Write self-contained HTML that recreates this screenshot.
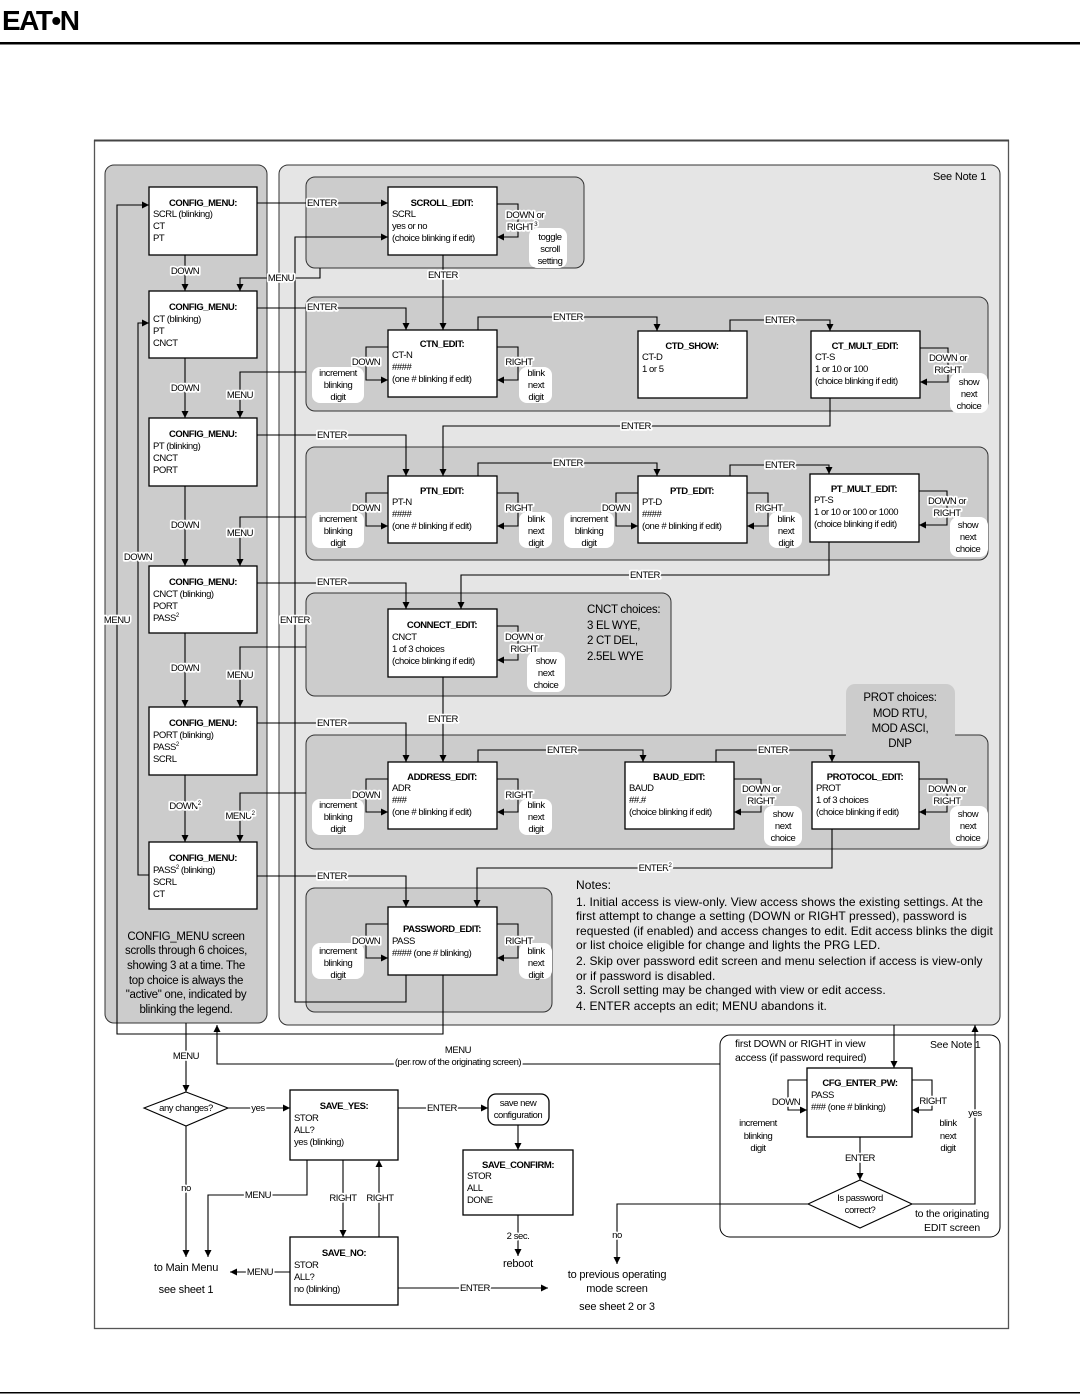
<!DOCTYPE html>
<html><head><meta charset="utf-8"><style>
html,body{margin:0;padding:0;background:#fff;}
svg{display:block;}
text{font-family:"Liberation Sans",Arial,sans-serif;font-size:9.5px;letter-spacing:-0.45px;fill:#000;}
.b{font-weight:bold;}
.c{text-anchor:middle;}
.l{stroke:#fff;stroke-width:3.5px;paint-order:stroke;stroke-linejoin:round;}
.big{font-size:11.5px;letter-spacing:-0.3px;}
.n{font-size:11px;letter-spacing:-0.2px;}
.nt{font-size:12px;letter-spacing:0.05px;}
line,polyline,path.w{fill:none;stroke:#000;stroke-width:1.1;}
.bx{fill:#fff;stroke:#000;stroke-width:1.3;}
.bub{fill:#fff;stroke:none;}
</style></head><body>
<svg width="1080" height="1399" viewBox="0 0 1080 1399" xmlns="http://www.w3.org/2000/svg">
<defs>
<marker id="a" viewBox="0 0 10 10" refX="10" refY="5" markerWidth="7" markerHeight="7" orient="auto" markerUnits="userSpaceOnUse"><path d="M0,0 L10,5 L0,10 z" fill="#000"/></marker>
</defs>
<!-- header -->
<text x="2" y="30" style="font-size:28px;font-weight:900;letter-spacing:-1.5px;font-family:'Liberation Sans',sans-serif">EAT•N</text>
<rect x="0" y="42" width="1080" height="2.5" fill="#000"/>
<rect x="0" y="1392" width="1080" height="1.5" fill="#000"/>

<!-- frame -->
<rect x="94.5" y="140.5" width="914" height="1188" fill="#fff" stroke="#555" stroke-width="1.3"/>
<rect x="94" y="139.5" width="915" height="2" fill="#444"/>

<!-- panels -->
<rect x="105" y="165" width="162" height="858" rx="9" fill="#cccccc" stroke="#333" stroke-width="1"/>
<rect x="279" y="165" width="721" height="860" rx="9" fill="#e5e5e5" stroke="#333" stroke-width="1"/>
<text x="933" y="180" class="n">See Note 1</text>
<rect x="306" y="177" width="278" height="91" rx="9" fill="#cccccc" stroke="#333"/>
<rect x="306" y="297" width="682" height="114" rx="9" fill="#cccccc" stroke="#333"/>
<rect x="306" y="447" width="682" height="113" rx="9" fill="#cccccc" stroke="#333"/>
<rect x="306" y="593" width="365" height="103" rx="9" fill="#cccccc" stroke="#333"/>
<rect x="306" y="735" width="682" height="114" rx="9" fill="#cccccc" stroke="#333"/>
<rect x="846" y="684" width="109" height="56" rx="9" fill="#cccccc"/>
<rect x="846" y="730" width="109" height="8" fill="#cccccc"/>
<rect x="306" y="888" width="246" height="124" rx="9" fill="#cccccc" stroke="#333"/>

<text x="587" y="613" class="big">CNCT choices:</text>
<text x="587" y="629" class="big">3 EL WYE,</text>
<text x="587" y="644" class="big">2 CT DEL,</text>
<text x="587" y="660" class="big">2.5EL WYE</text>
<text x="900" y="701" class="big c">PROT choices:</text>
<text x="900" y="717" class="big c">MOD RTU,</text>
<text x="900" y="732" class="big c">MOD ASCI,</text>
<text x="900" y="747" class="big c">DNP</text>

<text x="186" y="940" class="big c">CONFIG_MENU screen</text>
<text x="186" y="954" class="big c">scrolls through 6 choices,</text>
<text x="186" y="969" class="big c">showing 3 at a time.  The</text>
<text x="186" y="984" class="big c">top choice is always the</text>
<text x="186" y="998" class="big c">"active" one, indicated by</text>
<text x="186" y="1013" class="big c">blinking the legend.</text>

<!-- notes -->
<text x="576" y="889" class="nt">Notes:</text>
<text x="576" y="906" class="nt">1.  Initial access is view-only.  View access shows the existing settings.  At the</text>
<text x="576" y="920" class="nt">first attempt to change a setting (DOWN or RIGHT pressed), password is</text>
<text x="576" y="935" class="nt">requested (if enabled) and access changes to edit.  Edit access blinks the digit</text>
<text x="576" y="949" class="nt">or list choice eligible for change and lights the PRG LED.</text>
<text x="576" y="965" class="nt">2.  Skip over password edit screen and menu selection if access is view-only</text>
<text x="576" y="980" class="nt">or if password is disabled.</text>
<text x="576" y="994" class="nt">3.  Scroll setting may be changed with view or edit access.</text>
<text x="576" y="1010" class="nt">4.  ENTER accepts an edit; MENU abandons it.</text>

<!-- long left lines -->
<polyline points="443,975 443,1034 117,1034 117,205 149,205" marker-end="url(#a)"/>
<polyline points="149,875 138,875 138,323 149,323" marker-end="url(#a)"/>
<text x="117" y="623" class="l c">MENU</text>
<text x="138" y="560" class="l c">DOWN</text>
<polyline points="406,975 406,1002 295,1002 295,237 388,237" marker-end="url(#a)"/>
<text x="295" y="623" class="l c">ENTER</text>

<!-- config menus -->
<g>
<rect class="bx" x="149" y="187" width="108" height="68"/>
<text x="203" y="206" class="b c">CONFIG_MENU:</text><text x="153" y="217">SCRL (blinking)</text><text x="153" y="229">CT</text><text x="153" y="241">PT</text>
<rect class="bx" x="149" y="291" width="108" height="67"/>
<text x="203" y="310" class="b c">CONFIG_MENU:</text><text x="153" y="322">CT (blinking)</text><text x="153" y="334">PT</text><text x="153" y="346">CNCT</text>
<rect class="bx" x="149" y="418" width="108" height="68"/>
<text x="203" y="437" class="b c">CONFIG_MENU:</text><text x="153" y="449">PT (blinking)</text><text x="153" y="461">CNCT</text><text x="153" y="473">PORT</text>
<rect class="bx" x="149" y="566" width="108" height="67"/>
<text x="203" y="585" class="b c">CONFIG_MENU:</text><text x="153" y="597">CNCT (blinking)</text><text x="153" y="609">PORT</text><text x="153" y="621">PASS<tspan dy="-4" font-size="6">2</tspan></text>
<rect class="bx" x="149" y="707" width="108" height="68"/>
<text x="203" y="726" class="b c">CONFIG_MENU:</text><text x="153" y="738">PORT (blinking)</text><text x="153" y="750">PASS<tspan dy="-4" font-size="6">2</tspan></text><text x="153" y="762">SCRL</text>
<rect class="bx" x="149" y="842" width="108" height="67"/>
<text x="203" y="861" class="b c">CONFIG_MENU:</text><text x="153" y="873">PASS<tspan dy="-4" font-size="6">2</tspan><tspan dy="4"> (blinking)</tspan></text><text x="153" y="885">SCRL</text><text x="153" y="897">CT</text>
</g>
<!-- DOWN arrows -->
<line x1="185" y1="255" x2="185" y2="291" marker-end="url(#a)"/><text x="185" y="274" class="l c">DOWN</text>
<line x1="185" y1="358" x2="185" y2="418" marker-end="url(#a)"/><text x="185" y="391" class="l c">DOWN</text>
<line x1="185" y1="486" x2="185" y2="566" marker-end="url(#a)"/><text x="185" y="528" class="l c">DOWN</text>
<line x1="185" y1="633" x2="185" y2="707" marker-end="url(#a)"/><text x="185" y="671" class="l c">DOWN</text>
<line x1="185" y1="775" x2="185" y2="842" marker-end="url(#a)"/><text x="185" y="809" class="l c">DOWN<tspan dy="-4" font-size="6">2</tspan></text>
<!-- MENU returns -->
<polyline points="320,268 320,278 240,278 240,291" marker-end="url(#a)"/><text x="281" y="281" class="l c">MENU</text>
<polyline points="306,372 240,372 240,418" marker-end="url(#a)"/><text x="240" y="398" class="l c">MENU</text>
<polyline points="306,517 240,517 240,566" marker-end="url(#a)"/><text x="240" y="536" class="l c">MENU</text>
<polyline points="306,647 240,647 240,707" marker-end="url(#a)"/><text x="240" y="678" class="l c">MENU</text>
<polyline points="306,793 240,793 240,842" marker-end="url(#a)"/><text x="240" y="819" class="l c">MENU<tspan dy="-4" font-size="6">2</tspan></text>
<!-- ENTER from configs -->
<line x1="257" y1="203" x2="388" y2="203" marker-end="url(#a)"/><text x="322" y="206" class="l c">ENTER</text>
<polyline points="257,308 406,308 406,330" marker-end="url(#a)"/><text x="322" y="310" class="l c">ENTER</text>
<polyline points="257,435 406,435 406,476" marker-end="url(#a)"/><text x="332" y="438" class="l c">ENTER</text>
<polyline points="257,583 406,583 406,609" marker-end="url(#a)"/><text x="332" y="585" class="l c">ENTER</text>
<polyline points="257,723 406,723 406,762" marker-end="url(#a)"/><text x="332" y="726" class="l c">ENTER</text>
<polyline points="257,876 406,876 406,907" marker-end="url(#a)"/><text x="332" y="879" class="l c">ENTER</text>

<!-- chain enters -->
<line x1="443" y1="255" x2="443" y2="330" marker-end="url(#a)"/><text x="443" y="278" class="l c">ENTER</text>
<polyline points="478,330 478,317 657,317 657,331" marker-end="url(#a)"/><text x="568" y="320" class="l c">ENTER</text>
<polyline points="730,331 730,320 830,320 830,331" marker-end="url(#a)"/><text x="780" y="323" class="l c">ENTER</text>
<polyline points="830,398 830,426 443,426 443,476" marker-end="url(#a)"/><text x="636" y="429" class="l c">ENTER</text>
<polyline points="478,476 478,463 657,463 657,476" marker-end="url(#a)"/><text x="568" y="466" class="l c">ENTER</text>
<polyline points="730,476 730,465 829,465 829,474" marker-end="url(#a)"/><text x="780" y="468" class="l c">ENTER</text>
<polyline points="829,542 829,575 461,575 461,609" marker-end="url(#a)"/><text x="645" y="578" class="l c">ENTER</text>
<line x1="443" y1="677" x2="443" y2="762" marker-end="url(#a)"/><text x="443" y="722" class="l c">ENTER</text>
<polyline points="478,762 478,750 643,750 643,762" marker-end="url(#a)"/><text x="562" y="753" class="l c">ENTER</text>
<polyline points="716,762 716,750 832,750 832,762" marker-end="url(#a)"/><text x="773" y="753" class="l c">ENTER</text>
<polyline points="832,829 832,868 477,868 477,907" marker-end="url(#a)"/><text x="655" y="871" class="l c">ENTER<tspan dy="-4" font-size="6">2</tspan></text>

<!-- edit boxes -->
<rect class="bx" x="388" y="187" width="109" height="68"/>
<text x="442" y="206" class="b c">SCROLL_EDIT:</text><text x="392" y="217">SCRL</text><text x="392" y="229">yes or no</text><text x="392" y="241">(choice blinking if edit)</text>
<rect class="bx" x="388" y="330" width="109" height="67"/>
<text x="442" y="347" class="b c">CTN_EDIT:</text><text x="392" y="358">CT-N</text><text x="392" y="370">####</text><text x="392" y="382">(one # blinking if edit)</text>
<rect class="bx" x="638" y="331" width="109" height="67"/>
<text x="692" y="349" class="b c">CTD_SHOW:</text><text x="642" y="360">CT-D</text><text x="642" y="372">1 or 5</text>
<rect class="bx" x="811" y="331" width="109" height="67"/>
<text x="865" y="349" class="b c">CT_MULT_EDIT:</text><text x="815" y="360">CT-S</text><text x="815" y="372">1 or 10 or 100</text><text x="815" y="384">(choice blinking if edit)</text>
<rect class="bx" x="388" y="476" width="109" height="67"/>
<text x="442" y="494" class="b c">PTN_EDIT:</text><text x="392" y="505">PT-N</text><text x="392" y="517">####</text><text x="392" y="529">(one # blinking if edit)</text>
<rect class="bx" x="638" y="476" width="109" height="67"/>
<text x="692" y="494" class="b c">PTD_EDIT:</text><text x="642" y="505">PT-D</text><text x="642" y="517">####</text><text x="642" y="529">(one # blinking if edit)</text>
<rect class="bx" x="810" y="474" width="109" height="68"/>
<text x="864" y="492" class="b c">PT_MULT_EDIT:</text><text x="814" y="503">PT-S</text><text x="814" y="515">1 or 10 or 100 or 1000</text><text x="814" y="527">(choice blinking if edit)</text>
<rect class="bx" x="388" y="609" width="109" height="68"/>
<text x="442" y="628" class="b c">CONNECT_EDIT:</text><text x="392" y="640">CNCT</text><text x="392" y="652">1 of 3 choices</text><text x="392" y="664">(choice blinking if edit)</text>
<rect class="bx" x="388" y="762" width="109" height="67"/>
<text x="442" y="780" class="b c">ADDRESS_EDIT:</text><text x="392" y="791">ADR</text><text x="392" y="803">###</text><text x="392" y="815">(one # blinking if edit)</text>
<rect class="bx" x="625" y="762" width="109" height="67"/>
<text x="679" y="780" class="b c">BAUD_EDIT:</text><text x="629" y="791">BAUD</text><text x="629" y="803">##.#</text><text x="629" y="815">(choice blinking if edit)</text>
<rect class="bx" x="812" y="762" width="107" height="67"/>
<text x="865" y="780" class="b c">PROTOCOL_EDIT:</text><text x="816" y="791">PROT</text><text x="816" y="803">1 of 3 choices</text><text x="816" y="815">(choice blinking if edit)</text>
<rect class="bx" x="388" y="907" width="109" height="68"/>
<text x="442" y="932" class="b c">PASSWORD_EDIT:</text><text x="392" y="944">PASS</text><text x="392" y="956">#### (one # blinking)</text>

<!-- DOWN loops (increment) -->
<g>
<polyline points="388,347 366,347 366,380 388,380" marker-end="url(#a)"/>
<rect class="bub" x="312" y="367" width="52" height="36" rx="8"/>
<text x="366" y="365" class="l c">DOWN</text><text x="338" y="376" class="c">increment</text><text x="338" y="388" class="c">blinking</text><text x="338" y="400" class="c">digit</text>
<polyline points="388,493 366,493 366,526 388,526" marker-end="url(#a)"/>
<rect class="bub" x="312" y="512" width="52" height="36" rx="8"/>
<text x="366" y="511" class="l c">DOWN</text><text x="338" y="522" class="c">increment</text><text x="338" y="534" class="c">blinking</text><text x="338" y="546" class="c">digit</text>
<polyline points="638,493 616,493 616,526 638,526" marker-end="url(#a)"/>
<rect class="bub" x="564" y="512" width="50" height="36" rx="8"/>
<text x="616" y="511" class="l c">DOWN</text><text x="589" y="522" class="c">increment</text><text x="589" y="534" class="c">blinking</text><text x="589" y="546" class="c">digit</text>
<polyline points="388,779 366,779 366,812 388,812" marker-end="url(#a)"/>
<rect class="bub" x="312" y="799" width="52" height="36" rx="8"/>
<text x="366" y="798" class="l c">DOWN</text><text x="338" y="808" class="c">increment</text><text x="338" y="820" class="c">blinking</text><text x="338" y="832" class="c">digit</text>
<polyline points="388,924 366,924 366,958 388,958" marker-end="url(#a)"/>
<rect class="bub" x="312" y="943" width="52" height="36" rx="8"/>
<text x="366" y="944" class="l c">DOWN</text><text x="338" y="954" class="c">increment</text><text x="338" y="966" class="c">blinking</text><text x="338" y="978" class="c">digit</text>
</g>
<!-- RIGHT loops (blink next digit) -->
<g>
<polyline points="497,347 518,347 518,380 497,380" marker-end="url(#a)"/>
<rect class="bub" x="519" y="367" width="33" height="36" rx="8"/>
<text x="519" y="365" class="l c">RIGHT</text><text x="536" y="376" class="c">blink</text><text x="536" y="388" class="c">next</text><text x="536" y="400" class="c">digit</text>
<polyline points="497,493 518,493 518,526 497,526" marker-end="url(#a)"/>
<rect class="bub" x="519" y="512" width="33" height="36" rx="8"/>
<text x="519" y="511" class="l c">RIGHT</text><text x="536" y="522" class="c">blink</text><text x="536" y="534" class="c">next</text><text x="536" y="546" class="c">digit</text>
<polyline points="747,493 768,493 768,526 747,526" marker-end="url(#a)"/>
<rect class="bub" x="769" y="512" width="33" height="36" rx="8"/>
<text x="769" y="511" class="l c">RIGHT</text><text x="786" y="522" class="c">blink</text><text x="786" y="534" class="c">next</text><text x="786" y="546" class="c">digit</text>
<polyline points="497,779 518,779 518,812 497,812" marker-end="url(#a)"/>
<rect class="bub" x="519" y="799" width="33" height="36" rx="8"/>
<text x="519" y="798" class="l c">RIGHT</text><text x="536" y="808" class="c">blink</text><text x="536" y="820" class="c">next</text><text x="536" y="832" class="c">digit</text>
<polyline points="497,924 518,924 518,958 497,958" marker-end="url(#a)"/>
<rect class="bub" x="519" y="943" width="33" height="36" rx="8"/>
<text x="519" y="944" class="l c">RIGHT</text><text x="536" y="954" class="c">blink</text><text x="536" y="966" class="c">next</text><text x="536" y="978" class="c">digit</text>
</g>
<!-- DOWN or RIGHT loops -->
<g>
<polyline points="497,204 518,204 518,237 497,237" marker-end="url(#a)"/>
<rect class="bub" x="529" y="228" width="38" height="40" rx="8"/>
<text x="525" y="218" class="l c">DOWN or</text><text x="522" y="230" class="l c">RIGHT<tspan dy="-4" font-size="6">3</tspan></text>
<text x="550" y="240" class="c">toggle</text><text x="550" y="252" class="c">scroll</text><text x="550" y="264" class="c">setting</text>

<polyline points="920,348 948,348 948,382 920,382" marker-end="url(#a)"/>
<rect class="bub" x="950" y="373" width="38" height="40" rx="8"/>
<text x="948" y="361" class="l c">DOWN or</text><text x="948" y="373" class="l c">RIGHT</text>
<text x="969" y="385" class="c">show</text><text x="969" y="397" class="c">next</text><text x="969" y="409" class="c">choice</text>

<polyline points="919,491 947,491 947,525 919,525" marker-end="url(#a)"/>
<rect class="bub" x="950" y="517" width="38" height="40" rx="8"/>
<text x="947" y="504" class="l c">DOWN or</text><text x="947" y="516" class="l c">RIGHT</text>
<text x="968" y="528" class="c">show</text><text x="968" y="540" class="c">next</text><text x="968" y="552" class="c">choice</text>

<polyline points="497,626 518,626 518,660 497,660" marker-end="url(#a)"/>
<rect class="bub" x="527" y="652" width="38" height="40" rx="8"/>
<text x="524" y="640" class="l c">DOWN or</text><text x="524" y="652" class="l c">RIGHT</text>
<text x="546" y="664" class="c">show</text><text x="546" y="676" class="c">next</text><text x="546" y="688" class="c">choice</text>

<polyline points="734,779 761,779 761,812 734,812" marker-end="url(#a)"/>
<rect class="bub" x="764" y="806" width="38" height="40" rx="8"/>
<text x="761" y="792" class="l c">DOWN or</text><text x="761" y="804" class="l c">RIGHT</text>
<text x="783" y="817" class="c">show</text><text x="783" y="829" class="c">next</text><text x="783" y="841" class="c">choice</text>

<polyline points="919,779 947,779 947,812 919,812" marker-end="url(#a)"/>
<rect class="bub" x="950" y="806" width="38" height="40" rx="8"/>
<text x="947" y="792" class="l c">DOWN or</text><text x="947" y="804" class="l c">RIGHT</text>
<text x="968" y="817" class="c">show</text><text x="968" y="829" class="c">next</text><text x="968" y="841" class="c">choice</text>
</g>

<!-- bottom section -->
<line x1="186" y1="1023" x2="186" y2="1092" marker-end="url(#a)"/><text x="186" y="1059" class="l c">MENU</text>
<polyline points="720,1064 217,1064 217,1025" marker-end="url(#a)"/>
<text x="458" y="1053" class="l c">MENU</text><text x="458" y="1065" class="l c">(per row of the originating screen)</text>

<polygon points="186,1092 228,1108 186,1126 144,1108" fill="#fff" stroke="#000" stroke-width="1.1"/>
<text x="186" y="1111" class="c">any changes?</text>
<line x1="228" y1="1108" x2="290" y2="1108" marker-end="url(#a)"/><text x="258" y="1111" class="l c">yes</text>
<line x1="186" y1="1126" x2="186" y2="1257" marker-end="url(#a)"/><text x="186" y="1191" class="l c">no</text>

<rect class="bx" x="290" y="1090" width="108" height="70"/>
<text x="344" y="1109" class="b c">SAVE_YES:</text><text x="294" y="1121">STOR</text><text x="294" y="1133">ALL?</text><text x="294" y="1145">yes (blinking)</text>
<polyline points="307,1160 307,1195 208,1195 208,1257" marker-end="url(#a)"/><text x="258" y="1198" class="l c">MENU</text>
<line x1="343" y1="1160" x2="343" y2="1237" marker-end="url(#a)"/><text x="343" y="1201" class="l c">RIGHT</text>
<line x1="379" y1="1237" x2="379" y2="1160" marker-end="url(#a)"/><text x="380" y="1201" class="l c">RIGHT</text>
<line x1="398" y1="1108" x2="488" y2="1108" marker-end="url(#a)"/><text x="442" y="1111" class="l c">ENTER</text>
<rect class="bx" x="488" y="1094" width="61" height="31" rx="8"/>
<text x="518" y="1106" class="c">save new</text><text x="518" y="1118" class="c">configuration</text>
<line x1="518" y1="1125" x2="518" y2="1150" marker-end="url(#a)"/>
<rect class="bx" x="463" y="1150" width="110" height="65"/>
<text x="518" y="1168" class="b c">SAVE_CONFIRM:</text><text x="467" y="1179">STOR</text><text x="467" y="1191">ALL</text><text x="467" y="1203">DONE</text>
<line x1="518" y1="1215" x2="518" y2="1256" marker-end="url(#a)"/><text x="518" y="1239" class="l c">2 sec.</text>
<text x="518" y="1267" class="c n">reboot</text>

<rect class="bx" x="290" y="1237" width="108" height="68"/>
<text x="344" y="1256" class="b c">SAVE_NO:</text><text x="294" y="1268">STOR</text><text x="294" y="1280">ALL?</text><text x="294" y="1292">no (blinking)</text>
<line x1="290" y1="1272" x2="230" y2="1272" marker-end="url(#a)"/><text x="260" y="1275" class="l c">MENU</text>
<line x1="398" y1="1288" x2="548" y2="1288" marker-end="url(#a)"/><text x="475" y="1291" class="l c">ENTER</text>
<text x="186" y="1271" class="c n">to Main Menu</text>
<text x="186" y="1293" class="c n">see sheet 1</text>
<text x="617" y="1278" class="c n">to previous operating</text>
<text x="617" y="1292" class="c n">mode screen</text>
<text x="617" y="1310" class="c n">see sheet 2 or 3</text>

<!-- password panel -->
<rect x="720" y="1035" width="280" height="202" rx="10" fill="#fff" stroke="#000" stroke-width="1"/>
<text x="735" y="1047" class="n" style="font-size:10.5px">first DOWN or RIGHT in view</text>
<text x="735" y="1061" class="n" style="font-size:10.5px">access (if password required)</text>
<text x="930" y="1048" class="n" style="font-size:10.5px">See Note 1</text>
<line x1="894" y1="1025" x2="894" y2="1068" marker-end="url(#a)"/>
<rect class="bx" x="807" y="1068" width="105" height="69"/>
<text x="860" y="1086" class="b c">CFG_ENTER_PW:</text><text x="811" y="1098">PASS</text><text x="811" y="1110">### (one # blinking)</text>
<polyline points="807,1080 788,1080 788,1110 807,1110" marker-end="url(#a)"/>
<text x="786" y="1105" class="l c">DOWN</text>
<text x="758" y="1126" class="c">increment</text><text x="758" y="1139" class="c">blinking</text><text x="758" y="1151" class="c">digit</text>
<polyline points="912,1080 932,1080 932,1110 912,1110" marker-end="url(#a)"/>
<text x="933" y="1104" class="l c">RIGHT</text>
<text x="948" y="1126" class="c">blink</text><text x="948" y="1139" class="c">next</text><text x="948" y="1151" class="c">digit</text>
<line x1="860" y1="1137" x2="860" y2="1180" marker-end="url(#a)"/><text x="860" y="1161" class="l c">ENTER</text>
<polygon points="860,1180 912,1204 860,1228 808,1204" fill="#fff" stroke="#000" stroke-width="1.1"/>
<text x="860" y="1201" class="c">Is password</text><text x="860" y="1213" class="c">correct?</text>
<polyline points="912,1204 975,1204 975,1025" marker-end="url(#a)"/>
<text x="975" y="1116" class="l c">yes</text>
<text x="952" y="1217" class="l c n" style="font-size:10.5px">to the originating</text>
<text x="952" y="1231" class="c n" style="font-size:10.5px">EDIT screen</text>
<polyline points="808,1204 617,1204 617,1264" marker-end="url(#a)"/>
<text x="617" y="1238" class="l c">no</text>
</svg>
</body></html>
